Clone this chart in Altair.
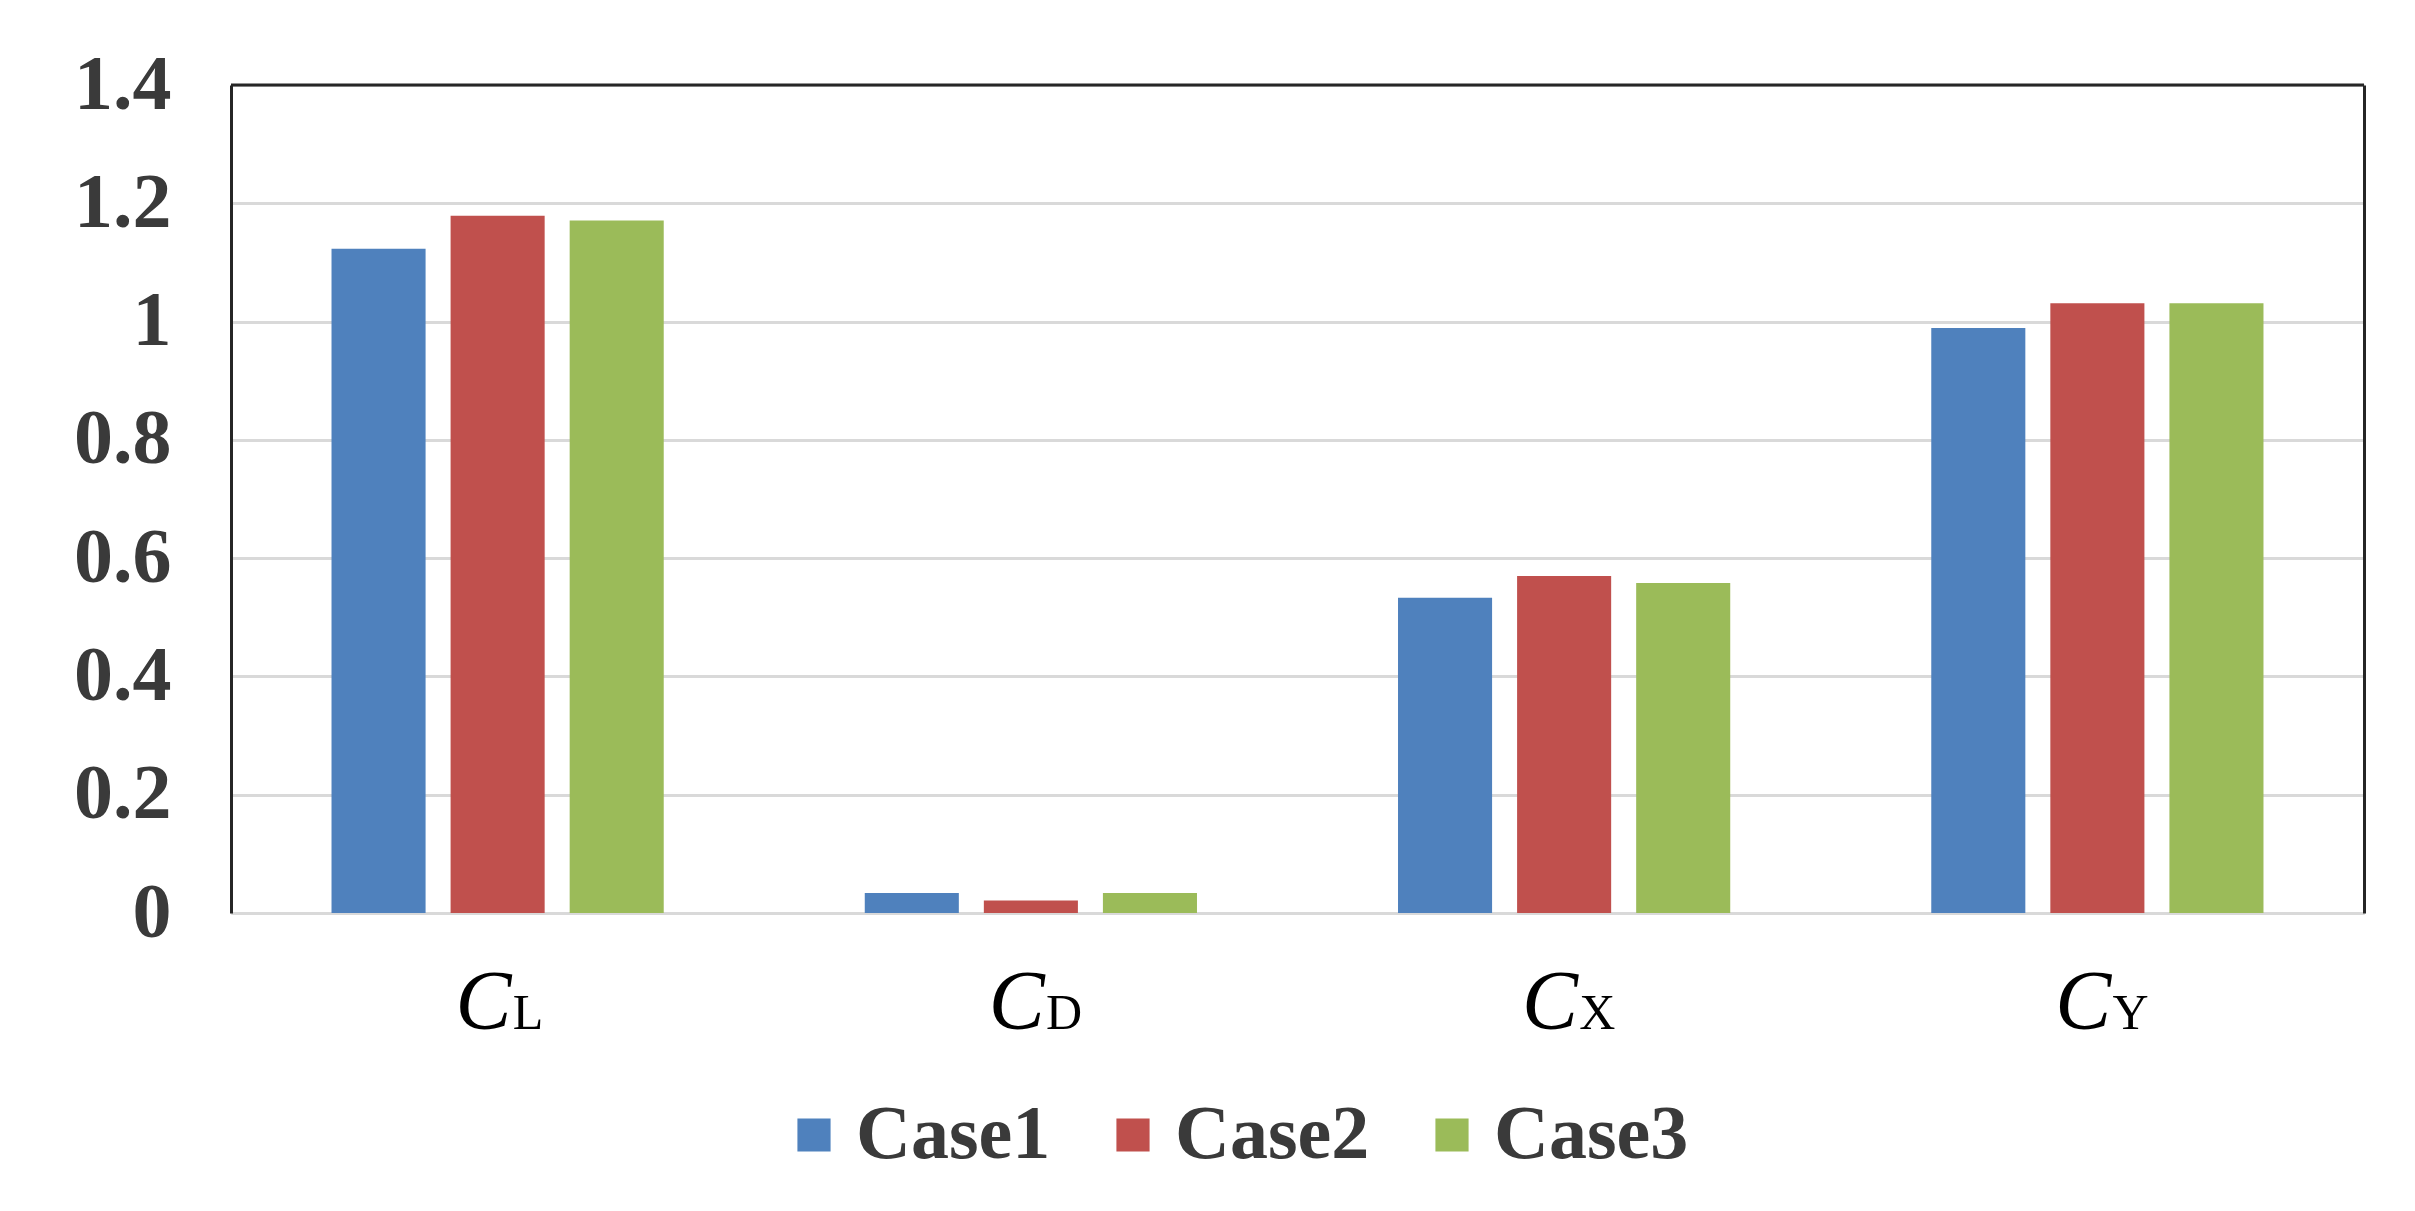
import altair as alt
import pandas as pd

categories = ["CL", "CD", "CX", "CY"]
main_letters = ["C", "C", "C", "C"]
sub_letters = ["L", "D", "X", "Y"]
cases = ["Case1", "Case2", "Case3"]
case1 = [1.123, 0.034, 0.533, 0.989]
case2 = [1.179, 0.021, 0.570, 1.031]
case3 = [1.171, 0.034, 0.558, 1.031]
colors = ["#4F81BD", "#C0504D", "#9BBB59"]
y_ticks = [0, 0.2, 0.4, 0.6, 0.8, 1.0, 1.2, 1.4]
frame_top = [1.4]

rows = []
for i, c in enumerate(categories):
    for case, vals in zip(cases, [case1, case2, case3]):
        rows.append({"category": c, "case": case, "value": vals[i]})
df = pd.DataFrame(rows)
lab = pd.DataFrame({"category": categories, "main": main_letters, "sub": sub_letters})

W, H = 2133, 828
SERIF = "Liberation Serif"
DARK = "#262626"
GRID = "#d9d9d9"

xscale = alt.Scale(domain=categories, paddingInner=0.377, paddingOuter=0.1885)
yscale = alt.Scale(domain=[0, 1.4], nice=False, zero=True)
xaxis = alt.Axis(labels=False, ticks=False, title=None, domainColor=GRID, domainWidth=3, grid=False)

bars = alt.Chart(df).mark_bar().encode(
    x=alt.X("category:N", sort=categories, scale=xscale, axis=xaxis),
    xOffset=alt.XOffset("case:N", sort=cases, scale=alt.Scale(paddingInner=0.21, paddingOuter=0)),
    y=alt.Y("value:Q", scale=yscale, axis=alt.Axis(
        values=y_ticks, format="~g", title=None, ticks=False,
        grid=True, gridColor=GRID, gridWidth=3,
        domain=True, domainColor=DARK, domainWidth=3,
        labelFont=SERIF, labelFontWeight="bold", labelFontSize=78,
        labelColor="#3a3a3a", labelPadding=60)),
    color=alt.Color("case:N", scale=alt.Scale(domain=cases, range=colors), legend=alt.Legend(
        orient="none", legendX=545, legendY=1012, direction="horizontal", title=None,
        symbolType="square", symbolSize=1100, symbolStrokeWidth=0, symbolOpacity=1,
        labelFont=SERIF, labelFontWeight="bold", labelFontSize=76, labelColor="#3a3a3a",
        labelLimit=1000, labelOffset=4, columnPadding=44, padding=0)),
)

top_rule = alt.Chart(pd.DataFrame({"v": frame_top})).mark_rule(color=DARK, strokeWidth=3).encode(
    y=alt.Y("v:Q", scale=yscale, axis=alt.Axis(
        orient="right", labels=False, ticks=False, grid=False, title=None,
        domain=True, domainColor=DARK, domainWidth=3)),
)

c_text = alt.Chart(lab).mark_text(
    font=SERIF, fontStyle="italic", fontSize=84, align="right", baseline="alphabetic",
    dx=14, color="black").encode(
    x=alt.X("category:N", sort=categories, scale=xscale, axis=xaxis),
    y=alt.value(H + 116),
    text="main:N",
)

sub_text = alt.Chart(lab).mark_text(
    font=SERIF, fontSize=50, align="left", baseline="alphabetic",
    dx=15, color="black").encode(
    x=alt.X("category:N", sort=categories, scale=xscale, axis=xaxis),
    y=alt.value(H + 116),
    text="sub:N",
)

chart = alt.layer(bars, top_rule, c_text, sub_text).resolve_axis(y="independent").properties(
    width=W, height=H,
    padding={"left": 223, "top": 77, "right": 40, "bottom": 280},
    autosize="none",
).configure_view(stroke=None)

chart.save("out.html", embed_options={"renderer": "svg", "actions": False})
